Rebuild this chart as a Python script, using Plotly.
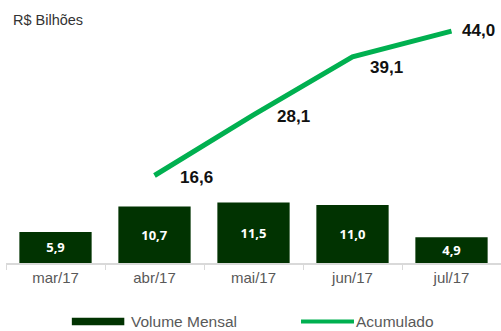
import plotly.graph_objects as go

categories = ["mar/17", "abr/17", "mai/17", "jun/17", "jul/17"]
volume_mensal = [5.9, 10.7, 11.5, 11.0, 4.9]
acum_categories = ["abr/17", "mai/17", "jun/17", "jul/17"]
acumulado = [16.6, 28.1, 39.1, 44.0]

def br(v):
    return f"{v:.1f}".replace(".", ",")

# label offsets (pixels) for the cumulative line labels
lbl_xshift = [42, 40, 34, 27]
lbl_yshift = [-2, -2, -11, 1]

BAR_COLOR = "#013301"
LINE_COLOR = "#00b050"

fig = go.Figure()
fig.add_trace(go.Bar(
    x=categories, y=volume_mensal, name="Volume Mensal",
    marker=dict(color=BAR_COLOR, line=dict(width=0)),
    width=0.73,
    text=[br(v) for v in volume_mensal],
    textposition="inside", insidetextanchor="middle",
    textangle=0,
    textfont=dict(family="Open Sans", size=13, color="white", weight="bold"),
    showlegend=False,
))
fig.add_trace(go.Scatter(
    x=acum_categories, y=acumulado, name="Acumulado",
    mode="lines", line=dict(color=LINE_COLOR, width=5),
    showlegend=False,
))

for c, v, dx, dy in zip(acum_categories, acumulado, lbl_xshift, lbl_yshift):
    fig.add_annotation(x=c, y=v, text=f"<b>{br(v)}</b>", showarrow=False,
                       xshift=dx, yshift=dy,
                       font=dict(family="Liberation Sans, Arial", size=17, color="#111111"))

fig.add_annotation(xref="paper", yref="paper", x=0.01, y=0.96, xanchor="left", yanchor="middle",
                   text="R$ Bilhões", showarrow=False,
                   font=dict(family="Liberation Sans, Arial", size=14.5, color="#333333"))

# custom legend
LEG_Y = -0.231
fig.add_shape(type="rect", xref="paper", yref="paper", x0=0.133, x1=0.239, y0=LEG_Y - 0.015, y1=LEG_Y + 0.015,
              fillcolor=BAR_COLOR, line=dict(width=0))
fig.add_annotation(xref="paper", yref="paper", x=0.249, y=LEG_Y, xanchor="left", yanchor="middle",
                   text="Volume Mensal", showarrow=False,
                   font=dict(family="Liberation Sans, Arial", size=15.5, color="#595959"))
fig.add_shape(type="line", xref="paper", yref="paper", x0=0.596, x1=0.703, y0=LEG_Y, y1=LEG_Y,
              line=dict(color=LINE_COLOR, width=4))
fig.add_annotation(xref="paper", yref="paper", x=0.703, y=LEG_Y, xanchor="left", yanchor="middle",
                   text="Acumulado", showarrow=False,
                   font=dict(family="Liberation Sans, Arial", size=15.5, color="#595959"))

fig.update_layout(
    width=501, height=331,
    margin=dict(l=6, r=0, t=10, b=68),
    plot_bgcolor="white", paper_bgcolor="white",
    bargap=0.27,
    xaxis=dict(
        type="category", categoryorder="array", categoryarray=categories,
        showline=True, linecolor="#d9d9d9", linewidth=1.5,
        ticks="outside", tickson="boundaries", ticklen=5, tickcolor="#d9d9d9",
        tickfont=dict(family="Liberation Sans, Arial", size=15, color="#595959"),
        showgrid=False, range=[-0.5, 4.5],
    ),
    yaxis=dict(range=[0, 48], visible=False, showgrid=False, zeroline=False),
    showlegend=False,
)

fig.write_html("out.html")
